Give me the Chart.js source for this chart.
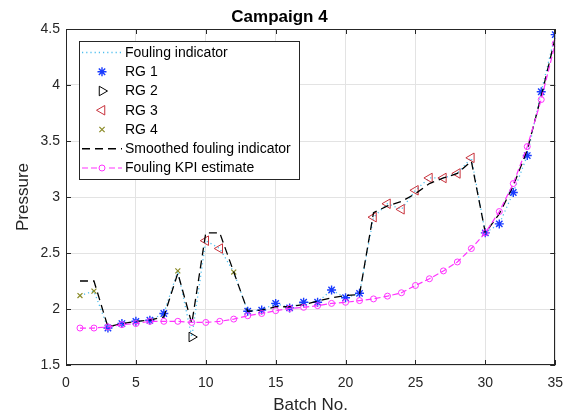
<!DOCTYPE html>
<html><head><meta charset="utf-8">
<script src="https://cdn.jsdelivr.net/npm/chart.js@4/dist/chart.umd.min.js"></script>
<style>html,body{margin:0;padding:0;background:#fff}</style>
</head><body>
<canvas id="c" width="573" height="417"></canvas>
<script>
// ---- data ----
const batches = [1,2,3,4,5,6,7,8,9,10,11,12,13,14,15,16,17,18,19,20,21,22,23,24,25,26,27,28,29,30,31,32,33,34,35];
const foulingIndicator = [2.12,2.16,1.83,1.87,1.89,1.90,1.96,2.34,1.75,2.61,2.54,2.33,1.98,1.99,2.05,2.01,2.06,2.06,2.17,2.10,2.14,2.82,2.94,2.89,3.06,3.17,3.17,3.21,3.35,2.68,2.76,3.04,3.37,3.94,4.45];
const regimeGroup = [4,4,1,1,1,1,1,4,2,3,3,4,1,1,1,1,1,1,1,1,1,3,3,3,3,3,3,3,3,1,1,1,1,1,1];
const smoothedIndicator = [2.25,2.25,1.84,1.87,1.89,1.90,1.93,2.32,1.87,2.68,2.68,2.33,1.98,1.99,2.02,2.02,2.04,2.07,2.10,2.12,2.13,2.86,2.92,2.96,3.03,3.12,3.17,3.21,3.32,2.68,2.85,3.10,3.42,3.90,4.42];
const kpiEstimate = [1.83,1.83,1.84,1.86,1.87,1.89,1.89,1.89,1.88,1.88,1.89,1.91,1.94,1.96,1.985,2.005,2.015,2.03,2.05,2.06,2.075,2.09,2.115,2.145,2.21,2.27,2.34,2.42,2.54,2.68,2.87,3.12,3.45,3.87,4.37];
const xTicks = [0,5,10,15,20,25,30,35];
const yTicks = [1.5,2,2.5,3,3.5,4,4.5];
const labels = ['Fouling indicator','RG 1','RG 2','RG 3','RG 4','Smoothed fouling indicator','Fouling KPI estimate'];

const pts = arr => batches.map((b,i)=>({x:b,y:arr[i]}));
const groupPts = g => batches.map((b,i)=>({x:b,y:foulingIndicator[i],g:regimeGroup[i]})).filter(p=>p.g===g).map(p=>({x:p.x,y:p.y}));

const FONT = "'Liberation Sans', Arial, Helvetica, sans-serif";
const AX = '#262626';

const datasets = [
  {label:labels[0], data:pts(foulingIndicator), showLine:true, borderColor:'#4DBEEE', borderWidth:1.3, borderDash:[1.2,3], pointRadius:0, order:7, mk:null},
  {label:labels[1], data:groupPts(1), showLine:false, pointStyle:'star', pointRadius:4.5, borderColor:'#1a3cff', pointBorderWidth:1.4, order:6, mk:'star'},
  {label:labels[2], data:groupPts(2), showLine:false, pointStyle:'triangle', rotation:90, pointRadius:5.5, borderColor:'#000000', backgroundColor:'rgba(0,0,0,0)', pointBorderWidth:1, order:5, mk:'tri', rot:90},
  {label:labels[3], data:groupPts(3), showLine:false, pointStyle:'triangle', rotation:270, pointRadius:5.5, borderColor:'#c8323c', backgroundColor:'rgba(0,0,0,0)', pointBorderWidth:1, order:4, mk:'tri', rot:270},
  {label:labels[4], data:groupPts(4), showLine:false, pointStyle:'crossRot', pointRadius:3.5, borderColor:'#8a8a26', pointBorderWidth:1.2, order:3, mk:'x'},
  {label:labels[5], data:pts(smoothedIndicator), showLine:true, borderColor:'#000000', borderWidth:1.3, borderDash:[8,5], pointRadius:0, order:2, mk:null},
  {label:labels[6], data:pts(kpiEstimate), showLine:true, borderColor:'#ff33ff', borderWidth:1.2, borderDash:[6,3], pointStyle:'circle', pointRadius:3, backgroundColor:'rgba(0,0,0,0)', pointBorderColor:'#ff33ff', pointBorderWidth:1, order:1, mk:'circle'}
];

function drawMarker(ctx, type, x, y, r, rot){
  ctx.beginPath();
  if(type==='star'){
    for(let k=0;k<4;k++){const a=k*Math.PI/4; ctx.moveTo(x-r*Math.cos(a),y-r*Math.sin(a)); ctx.lineTo(x+r*Math.cos(a),y+r*Math.sin(a));}
    ctx.stroke();
  } else if(type==='tri'){
    const a0=(rot-90)*Math.PI/180;
    for(let k=0;k<3;k++){const a=a0+k*2*Math.PI/3; const px=x+r*Math.cos(a), py=y+r*Math.sin(a); if(k===0) ctx.moveTo(px,py); else ctx.lineTo(px,py);}
    ctx.closePath(); ctx.stroke();
  } else if(type==='x'){
    const d=r*0.75; ctx.moveTo(x-d,y-d); ctx.lineTo(x+d,y+d); ctx.moveTo(x+d,y-d); ctx.lineTo(x-d,y+d); ctx.stroke();
  } else if(type==='circle'){
    ctx.arc(x,y,r,0,Math.PI*2); ctx.stroke();
  }
}

const framePlugin = {
  id:'frame',
  afterDraw(chart){
    const {ctx, chartArea:a, scales} = chart;
    ctx.save();
    ctx.strokeStyle = AX; ctx.lineWidth = 1; ctx.setLineDash([]);
    ctx.strokeRect(Math.round(a.left)+0.5, Math.round(a.top)+0.5, Math.round(a.right-a.left)-1, Math.round(a.bottom-a.top)-1);
    const L=5;
    ctx.beginPath();
    xTicks.forEach(t=>{const x=Math.round(scales.x.getPixelForValue(t))+0.5; ctx.moveTo(x,a.bottom); ctx.lineTo(x,a.bottom-L); ctx.moveTo(x,a.top); ctx.lineTo(x,a.top+L);});
    yTicks.forEach(t=>{const y=Math.round(scales.y.getPixelForValue(t))+0.5; ctx.moveTo(a.left,y); ctx.lineTo(a.left+L,y); ctx.moveTo(a.right,y); ctx.lineTo(a.right-L,y);});
    ctx.stroke();
    // legend
    const bx=79.5, by=41.5, bw=220, bh=138;
    ctx.fillStyle='#ffffff'; ctx.fillRect(bx,by,bw,bh);
    ctx.strokeStyle=AX; ctx.strokeRect(bx,by,bw,bh);
    ctx.font = "14px " + FONT; ctx.textBaseline='middle'; ctx.textAlign='left';
    chart.data.datasets.forEach((ds,i)=>{
      const y = 52.5 + i*19.25;
      const x0=82, x1=122, xm=102;
      if(ds.showLine){
        ctx.save(); ctx.strokeStyle=ds.borderColor; ctx.lineWidth=ds.borderWidth; ctx.setLineDash(ds.borderDash||[]);
        ctx.beginPath(); ctx.moveTo(x0,y); ctx.lineTo(x1,y); ctx.stroke(); ctx.restore();
      }
      if(ds.mk){
        ctx.save(); ctx.setLineDash([]); ctx.strokeStyle=ds.pointBorderColor||ds.borderColor; ctx.lineWidth=ds.pointBorderWidth||1;
        if(ds.mk==='circle'){ ctx.fillStyle='#fff'; ctx.beginPath(); ctx.arc(xm,y,ds.pointRadius+2,0,Math.PI*2); ctx.fill(); }
        drawMarker(ctx, ds.mk, xm, y, ds.pointRadius, ds.rot||0); ctx.restore();
      }
      ctx.fillStyle='#000'; ctx.fillText(ds.label, 125, y+0.5);
    });
    ctx.restore();
  }
};

new Chart(document.getElementById('c'), {
  type:'scatter',
  data:{datasets},
  plugins:[framePlugin],
  options:{
    responsive:false, animation:false,
    layout:{padding:{left:0,right:14,top:0,bottom:0}},
    plugins:{
      legend:{display:false}, tooltip:{enabled:false},
      title:{display:true, text:'Campaign 4', color:'#000', font:{family:FONT, size:17, weight:'bold'}, padding:{top:7,bottom:1.6}}
    },
    scales:{
      x:{type:'linear', min:0, max:35,
        afterBuildTicks:s=>{s.ticks = xTicks.map(v=>({value:v}));},
        afterFit:s=>{s.height=52;},
        ticks:{color:AX, font:{family:FONT,size:14}, padding:10, maxRotation:0},
        grid:{color:'#e3e3e3', drawTicks:false, lineWidth:1},
        border:{display:false},
        title:{display:true, text:'Batch No.', color:AX, font:{family:FONT,size:17}, padding:{top:0,bottom:1.5}}
      },
      y:{type:'linear', min:1.5, max:4.5,
        afterBuildTicks:s=>{s.ticks = yTicks.map(v=>({value:v}));},
        afterFit:s=>{s.width=66;},
        ticks:{color:AX, font:{family:FONT,size:14}, padding:6, callback:v=>String(v)},
        grid:{color:'#e3e3e3', drawTicks:false, lineWidth:1},
        border:{display:false},
        title:{display:true, text:'Pressure', color:AX, font:{family:FONT,size:17}, padding:{top:13,bottom:0}}
      }
    }
  }
});
</script>
</body></html>
